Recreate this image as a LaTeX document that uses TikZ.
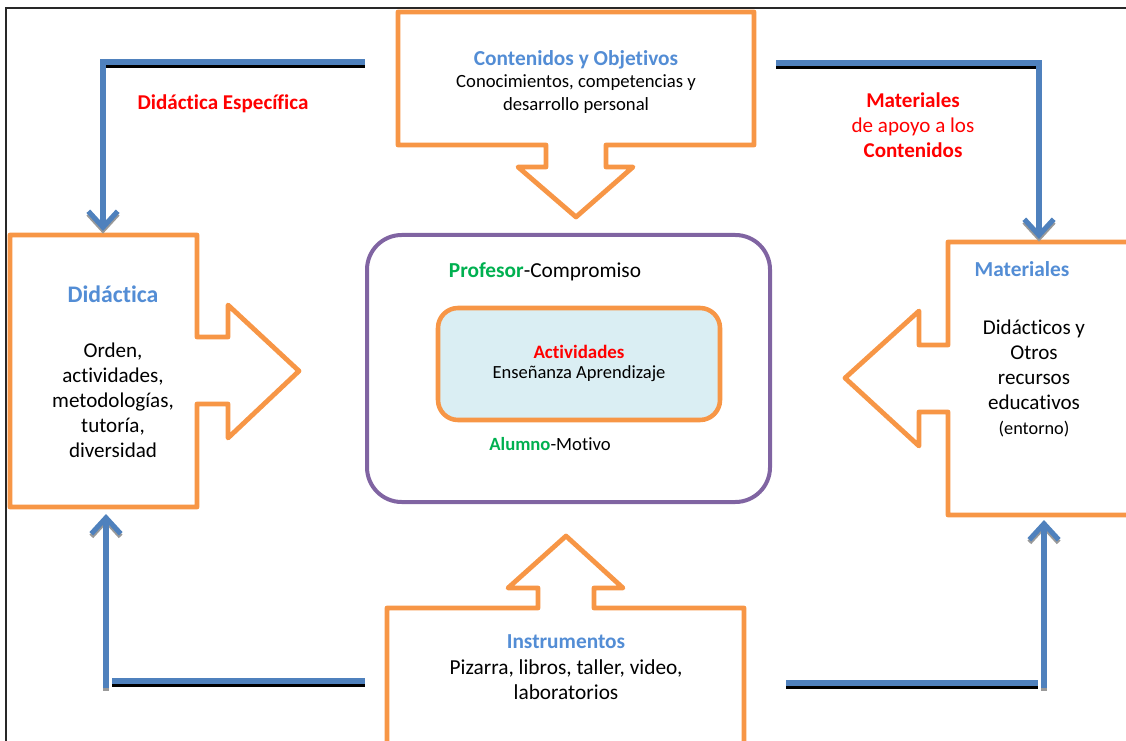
\documentclass[tikz,border=0pt]{standalone}
\usepackage{fontspec}
\setmainfont{Carlito}[Ligatures=NoCommon]
\usetikzlibrary{arrows.meta}

\definecolor{calloutorange}{RGB}{247,150,70}
\definecolor{linkblue}{RGB}{79,129,189}
\definecolor{headblue}{RGB}{83,141,213}
\definecolor{corepurple}{RGB}{128,100,162}
\definecolor{actfill}{RGB}{218,238,243}
\definecolor{rolegreen}{RGB}{0,176,80}
\definecolor{framegray}{RGB}{40,40,40}

\newcommand{\txtsize}[2]{\fontsize{#1}{#2}\selectfont}

\begin{document}
\begin{tikzpicture}[x=0.75pt,y=-0.75pt,
		callout/.style={draw=calloutorange,line width=3.6pt,line join=round,fill=white},
		link/.style={linkblue,line width=3.8pt},
		linkshade/.style={black,line width=3.6pt},
		tipshade/.style={black!40,line width=3.8pt},
		linktip/.style={-{Straight Barb[length=12pt,width=22pt]}},
		boxtitle/.style={font=\bfseries\txtsize{16}{19},text=headblue},
		boxtext/.style={align=center,font=\txtsize{15.8}{18.75}},
		redtext/.style={align=center,text=red,font=\txtsize{15.8}{18.75}},
		roletext/.style={font=\txtsize{16}{19}}]
		\useasboundingbox (0,0) rectangle (1126,741);
		\clip (0,0) rectangle (1126,741);
%		\draw[help lines,step=50] (0,0) grid (1126,741);
		\path (6,741) coordinate (framebl);
		\path (6,8) coordinate (frametl);
		\path (1126,8) coordinate (frametr);
		\path (365,62) coordinate (tl_start);
		\path (103,62) coordinate (tl_bend);
		\path (103,231) coordinate (tl_end);
		\path (776,63) coordinate (tr_start);
		\path (1039,63) coordinate (tr_bend);
		\path (1039,239) coordinate (tr_end);
		\path (365,681) coordinate (bl_start);
		\path (112,681) coordinate (bl_stop);
		\path (106,688) coordinate (bl_foot);
		\path (106,514) coordinate (bl_end);
		\path (786,683) coordinate (br_start);
		\path (1038,683) coordinate (br_stop);
		\path (1044,688) coordinate (br_foot);
		\path (1044,520) coordinate (br_end);

		\draw[framegray,line width=1.4pt] (framebl) -- (frametl) -- (frametr);

		% callout boxes
		\draw[callout] (398,12) -- (754,12) -- (754,145) -- (606,145) -- (606,167)
			-- (633,167) -- (576,217) -- (518,167) -- (546,167) -- (546,145)
			-- (398,145) -- cycle;
		\draw[callout] (10,235) -- (197,235) -- (197,337) -- (228,337) -- (228,305)
			-- (299,371) -- (228,438) -- (228,404) -- (197,404) -- (197,507)
			-- (10,507) -- cycle;
		\draw[callout] (1140,242) -- (948,242) -- (948,345) -- (919,345) -- (919,311)
			-- (845,378) -- (919,446) -- (919,412) -- (948,412) -- (948,515)
			-- (1140,515) -- cycle;
		\draw[callout] (387,760) -- (387,608) -- (538,608) -- (538,588) -- (508,588)
			-- (566,536) -- (623,588) -- (594,588) -- (594,608) -- (744,608)
			-- (744,760) -- cycle;

		% core
		\draw[corepurple,line width=3pt,rounded corners=26pt] (367,235) rectangle (770,502);
		\draw[calloutorange,fill=actfill,line width=3.4pt,rounded corners=15pt] (438,308) rectangle (720,420);

		% links
		\draw[linkshade] ([yshift=-3pt]tl_bend) ++(2,0) -- ([yshift=-3pt]tl_start);
		\draw[tipshade,linktip] ([yshift=-2pt]tl_bend) -- ([yshift=-2pt]tl_end);
		\draw[link,linktip] (tl_start) -- (tl_bend) -- (tl_end);
		\draw[linkshade] ([yshift=-3pt]tr_start) -- ([yshift=-3pt]tr_bend) ++(-2,0);
		\draw[tipshade,linktip] ([yshift=-2pt]tr_bend) -- ([yshift=-2pt]tr_end);
		\draw[link,linktip] (tr_start) -- (tr_bend) -- (tr_end);
		\draw[linkshade] ([yshift=-3pt]bl_stop) -- ([yshift=-3pt]bl_start);
		\draw[link] (bl_stop) -- (bl_start);
		\draw[tipshade,linktip] ([yshift=-2pt]bl_foot) -- ([yshift=-2pt]bl_end);
		\draw[link,linktip] (bl_foot) -- (bl_end);
		\draw[linkshade] ([yshift=-3pt]br_start) -- ([yshift=-3pt]br_stop);
		\draw[link] (br_start) -- (br_stop);
		\draw[tipshade,linktip] ([yshift=-2pt]br_foot) -- ([yshift=-2pt]br_end);
		\draw[link,linktip] (br_foot) -- (br_end);

		% texts
		\node[boxtitle] (contenidos) at (576,60) {Contenidos y Objetivos};
		\node[align=center,font=\txtsize{14}{17}] (conocimientos) at (576,94)
			{Conocimientos, competencias y\\desarrollo personal};
		\node[boxtitle,font=\bfseries\txtsize{17.8}{20}] (didactica) at (113,294) {Didáctica};
		\node[boxtext] (orden) at (113,400) {Orden,\\actividades,\\metodologías,\\tutoría,\\diversidad};
		\node[boxtitle] (materiales) at (1022,269) {Materiales};
		\node[boxtext] (recursos) at (1034,378) {Didácticos y\\Otros\\recursos\\educativos\\{\txtsize{13.7}{18.75}(entorno)}};
		\node[boxtitle] (instrumentos) at (566,642) {Instrumentos};
		\node[boxtext,font=\txtsize{16}{18.75}] (pizarra) at (566,680) {Pizarra, libros, taller, video,\\laboratorios};
		\node[redtext] (especifica) at (223,104) {\bfseries Didáctica Específica};
		\node[redtext] (apoyo) at (913,125) {\textbf{Materiales}\\de apoyo a los\\\textbf{Contenidos}};
		\node[roletext] (profesor) at (545,272) {\textcolor{rolegreen}{\bfseries Profesor}-Compromiso};
		\node[font=\bfseries\txtsize{14.2}{16},text=red] (actividades) at (579,352) {Actividades};
		\node[font=\txtsize{13.9}{16}] (ensenanza) at (579,374) {Enseñanza Aprendizaje};
		\node[roletext,font=\txtsize{14}{16}] (alumno) at (550,444) {\textcolor{rolegreen}{\bfseries Alumno}-Motivo};
	\end{tikzpicture}
\end{document}
